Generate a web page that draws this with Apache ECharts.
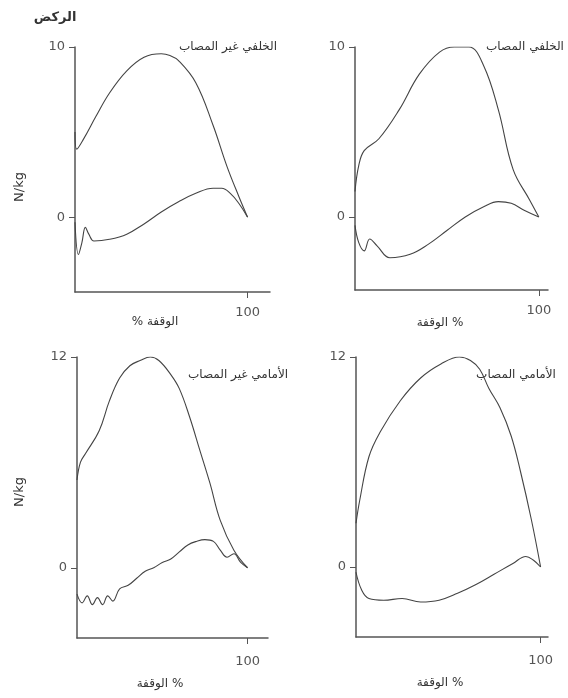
<!DOCTYPE html>
<html><head><meta charset="utf-8">
<script src="https://cdn.jsdelivr.net/npm/echarts@6/dist/echarts.min.js"></script>
<style>html,body{margin:0;padding:0;background:#fff}#c{width:568px;height:698px}</style>
</head><body><div id="c"></div>
<script>
// Panel titles and labels
const mainTitle = "الركض";
const panelTitles = ["الخلفي غير المصاب", "الخلفي المصاب", "الأمامي غير المصاب", "الأمامي المصاب"];
const xNames = ["% الوقفة", "الوقفة %", "الوقفة %", "الوقفة %"];
const yName = "N/kg";
const xTicks = [100];
const yTicksTop = [0, 10];
const yTicksBottom = [0, 12];

// Panel 1 (top-left)
const p1UpT = [0, 1, 5, 12, 20, 30, 40, 50, 55, 60, 70, 80, 88, 95, 100];
const p1UpV = [5.0, 4.0, 4.6, 5.9, 7.3, 8.6, 9.4, 9.6, 9.5, 9.2, 7.9, 5.4, 3.0, 1.2, 0.0];
const p1LoT = [0, 2, 4, 6, 8, 11, 20, 30, 40, 50, 60, 70, 80, 85, 90, 95, 100];
const p1LoV = [-0.3, -2.2, -1.5, -0.6, -1.0, -1.4, -1.3, -1.0, -0.4, 0.3, 0.9, 1.4, 1.7, 1.7, 1.4, 0.8, 0.0];
// Panel 2 (top-right)
const p2UpT = [0, 2, 5, 13, 24, 35, 46, 54, 62, 70, 78, 86, 95, 100];
const p2UpV = [1.5, 3.0, 3.9, 4.6, 6.3, 8.4, 9.7, 10.0, 10.0, 8.9, 6.3, 2.8, 1.0, 0.0];
const p2LoT = [0, 2, 5, 8, 12, 19, 30, 40, 50, 60, 70, 78, 85, 92, 100];
const p2LoV = [-0.5, -1.5, -2.0, -1.3, -1.7, -2.4, -2.2, -1.6, -0.8, 0.0, 0.6, 0.9, 0.8, 0.4, 0.0];
// Panel 3 (bottom-left)
const p3UpT = [0, 2, 5, 13, 19, 25, 31, 37, 43, 48, 55, 60, 66, 72, 78, 84, 92, 100];
const p3UpV = [5.0, 6.0, 6.5, 7.8, 9.5, 10.8, 11.5, 11.8, 12.0, 11.8, 11.0, 10.2, 8.6, 6.7, 4.8, 2.7, 1.0, 0.0];
const p3LoT = [0, 3, 6, 9, 12, 15, 18, 21, 25, 30, 35, 40, 45, 50, 55, 60, 65, 70, 75, 80, 84, 88, 92, 96, 100];
const p3LoV = [-1.5, -2.0, -1.6, -2.1, -1.7, -2.1, -1.6, -1.9, -1.2, -1.0, -0.6, -0.2, 0.0, 0.3, 0.5, 0.9, 1.3, 1.5, 1.6, 1.5, 1.0, 0.6, 0.8, 0.3, 0.0];
// Panel 4 (bottom-right)
const p4UpT = [0, 2, 7, 13, 24, 35, 46, 56, 62, 67, 72, 78, 84, 89, 95, 100];
const p4UpV = [2.5, 3.8, 6.3, 7.7, 9.5, 10.8, 11.6, 12.0, 11.8, 11.3, 10.2, 9.1, 7.5, 5.5, 2.7, 0.0];
const p4LoT = [0, 3, 7, 15, 25, 35, 45, 55, 65, 75, 85, 92, 96, 100];
const p4LoV = [-0.3, -1.3, -1.8, -1.9, -1.8, -2.0, -1.9, -1.5, -1.0, -0.4, 0.2, 0.6, 0.4, 0.0];

const zip = (t, v) => t.map((x, i) => [x, v[i]]);
const FONT = "DejaVu Sans";
const AX = "#555";

const grids = [
  {left: 75, top: 47, width: 195, height: 245},
  {left: 355, top: 47, width: 193, height: 243},
  {left: 77, top: 357, width: 191, height: 281},
  {left: 356, top: 357, width: 192, height: 280}
];
const xMax = [113, 105, 112, 104];
const yRange = [[-4.4, 10], [-4.3, 10], [-4, 12], [-4, 12]];
const yTickSets = [yTicksTop, yTicksTop, yTicksBottom, yTicksBottom];
const xLabelMargin = [14, 14, 17, 17];

const xAxes = grids.map((g, i) => ({
  type: 'value', gridIndex: i, min: 0, max: xMax[i],
  axisLine: {show: true, onZero: false, lineStyle: {color: AX, width: 1.5}},
  axisTick: {show: true, customValues: xTicks, length: 6, lineStyle: {color: AX}},
  axisLabel: {customValues: xTicks, color: '#555', fontFamily: FONT, fontSize: 13, margin: xLabelMargin[i]},
  splitLine: {show: false}
}));
const yAxes = grids.map((g, i) => ({
  type: 'value', gridIndex: i, min: yRange[i][0], max: yRange[i][1],
  axisLine: {show: true, onZero: false, lineStyle: {color: AX, width: 1.5}},
  axisTick: {show: true, customValues: yTickSets[i], length: 6, lineStyle: {color: AX}},
  axisLabel: {customValues: yTickSets[i], color: '#555', fontFamily: FONT, fontSize: 13, margin: 10},
  splitLine: {show: false}
}));

const pairs = [
  [p1UpT, p1UpV, 0], [p1LoT, p1LoV, 0],
  [p2UpT, p2UpV, 1], [p2LoT, p2LoV, 1],
  [p3UpT, p3UpV, 2], [p3LoT, p3LoV, 2],
  [p4UpT, p4UpV, 3], [p4LoT, p4LoV, 3]
];
const series = pairs.map(([t, v, gi]) => ({
  type: 'line', xAxisIndex: gi, yAxisIndex: gi, data: zip(t, v),
  smooth: 0.4, showSymbol: false, lineStyle: {color: '#444', width: 1.1}, animation: false
}));

const txt = (x, y, s, opt) => ({
  type: 'text', x: x, y: y,
  style: Object.assign({text: s, fill: '#333', font: '12px "' + FONT + '"', textAlign: 'center', textVerticalAlign: 'middle'}, opt || {})
});

const graphic = [
  txt(55, 18, mainTitle, {font: 'bold 13px "' + FONT + '"'}),
  txt(228, 47, panelTitles[0]),
  txt(525, 47, panelTitles[1]),
  txt(238, 375, panelTitles[2]),
  txt(516, 375, panelTitles[3]),
  txt(155, 322, xNames[0]),
  txt(440, 323, xNames[1]),
  txt(160, 684, xNames[2]),
  txt(440, 683, xNames[3]),
  {type: 'text', x: 20, y: 187, rotation: Math.PI / 2,
   style: {text: yName, fill: '#333', font: '13px "' + FONT + '"', textAlign: 'center', textVerticalAlign: 'middle'}},
  {type: 'text', x: 20, y: 492, rotation: Math.PI / 2,
   style: {text: yName, fill: '#333', font: '13px "' + FONT + '"', textAlign: 'center', textVerticalAlign: 'middle'}}
];

const chart = echarts.init(document.getElementById('c'), null, {renderer: 'canvas'});
chart.setOption({
  backgroundColor: '#fff', animation: false,
  grid: grids, xAxis: xAxes, yAxis: yAxes, series: series, graphic: graphic
});
</script></body></html>
